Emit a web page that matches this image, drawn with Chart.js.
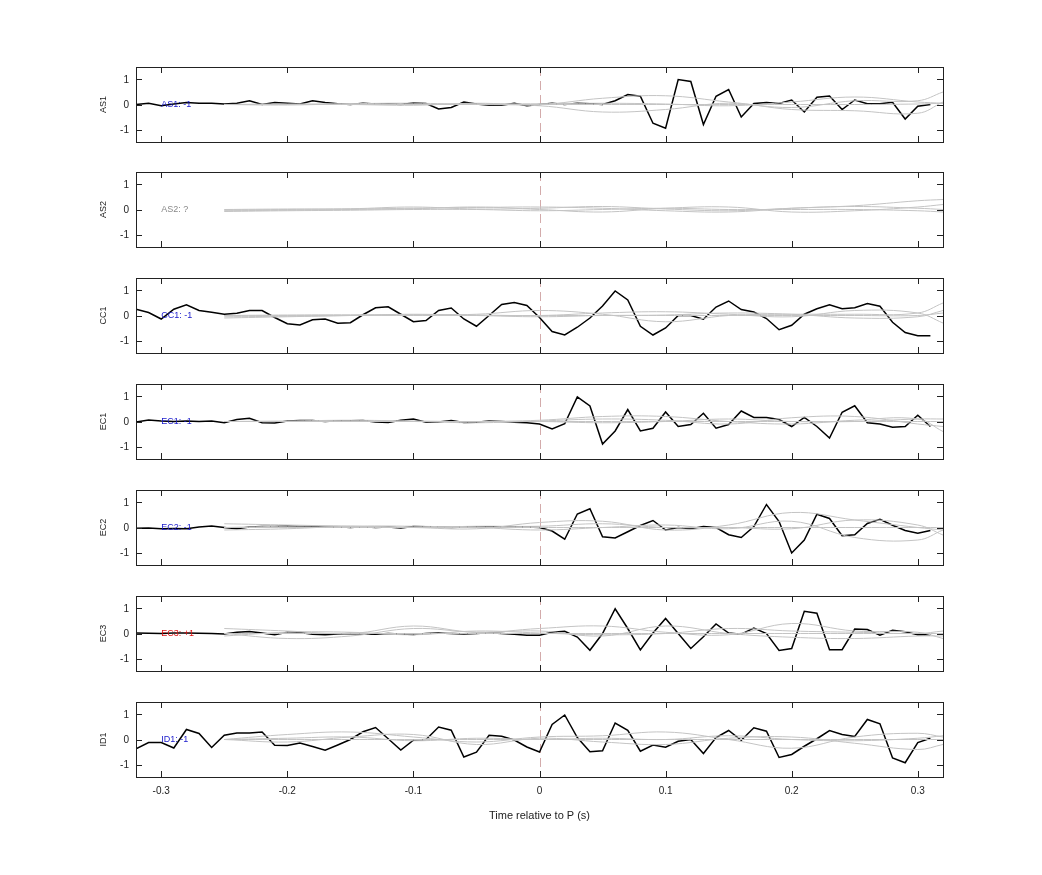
<!DOCTYPE html>
<html><head><meta charset="utf-8">
<script src="https://cdn.jsdelivr.net/npm/chart.js@4"></script>
<style>body{margin:0;background:#fff;width:1042px;height:875px;position:relative;overflow:hidden}
.p{position:absolute;left:0;width:1042px}</style></head><body>
<script>
const times=[-0.32,-0.31,-0.30,-0.29,-0.28,-0.27,-0.26,-0.25,-0.24,-0.23,-0.22,-0.21,-0.20,-0.19,-0.18,-0.17,-0.16,-0.15,-0.14,-0.13,-0.12,-0.11,-0.10,-0.09,-0.08,-0.07,-0.06,-0.05,-0.04,-0.03,-0.02,-0.01,
0,0.01,0.02,0.03,0.04,0.05,0.06,0.07,0.08,0.09,0.10,0.11,0.12,0.13,0.14,0.15,0.16,0.17,0.18,0.19,0.20,0.21,0.22,0.23,0.24,0.25,0.26,0.27,0.28,0.29,0.30,0.31];
const grayT=[-0.25,-0.2,-0.15,-0.1,-0.05,0,0.05,0.1,0.15,0.2,0.25,0.3,0.32];
const panelNames=["AS1","AS2","CC1","EC1","EC2","EC3","ID1"];
const panelLabels=["AS1: -1","AS2: ?","CC1: -1","EC1: -1","EC2: -1","EC3: +1","ID1: -1"];
const labelColors=["#1a1acc","#888888","#1a1acc","#1a1acc","#1a1acc","#dd1111","#1a1acc"];
const xTicks=[-0.3,-0.2,-0.1,0,0.1,0.2,0.3];
const yTicks=[-1,0,1];

const blackAS1=[0,0.05,-0.05,0.02,0.08,0.05,0.05,0.02,0.05,0.15,0,0.08,0.05,0.02,0.15,0.08,0.03,0,0.05,0.02,0.03,0,0.06,0.04,-0.18,-0.12,0.1,0.02,-0.03,-0.03,0.05,-0.05,
0,0.05,0,0.05,0.03,0,0.15,0.4,0.33,-0.75,-0.95,1.0,0.92,-0.8,0.33,0.6,-0.5,0.04,0.08,0.04,0.18,-0.3,0.29,0.34,-0.2,0.18,0.03,0.03,0.09,-0.58,-0.07,0];
const blackAS2=null;
const blackCC1=[0.25,0.12,-0.14,0.25,0.43,0.2,0.13,0.05,0.09,0.2,0.2,-0.08,-0.33,-0.38,-0.17,-0.14,-0.31,-0.29,0.03,0.31,0.35,0.05,-0.25,-0.2,0.2,0.3,-0.14,-0.43,0,0.44,0.52,0.4,
-0.08,-0.64,-0.78,-0.47,-0.1,0.38,0.98,0.62,-0.43,-0.78,-0.5,0,0,-0.15,0.34,0.58,0.24,0.14,-0.12,-0.57,-0.39,0.05,0.27,0.43,0.27,0.31,0.48,0.37,-0.27,-0.68,-0.81,-0.81];
const blackEC1=[-0.02,0.06,0.02,0,0.02,0,0.02,-0.05,0.08,0.13,-0.05,-0.06,0.02,0.04,0.04,0,0.03,0.03,0.04,-0.02,-0.04,0.05,0.1,-0.03,-0.02,0.04,-0.04,-0.03,0.02,0,-0.03,-0.05,
-0.1,-0.3,-0.09,0.98,0.62,-0.9,-0.38,0.48,-0.38,-0.27,0.38,-0.2,-0.12,0.33,-0.27,-0.12,0.42,0.16,0.16,0.08,-0.2,0.16,-0.2,-0.66,0.37,0.63,-0.05,-0.1,-0.23,-0.2,0.25,-0.2];
const blackEC2=[-0.03,-0.02,-0.05,-0.04,-0.05,0.02,0.06,0,-0.05,0.02,0.04,0.04,0.06,0.04,0.04,0.02,0.03,0,0.03,0,0.02,-0.02,0.04,0.03,0.02,0,0.02,0.02,0.03,0.03,0.03,0.02,
0,-0.14,-0.47,0.54,0.75,-0.37,-0.42,-0.17,0.08,0.28,-0.1,0,-0.05,0.04,0,-0.29,-0.4,0.04,0.92,0.24,-1.02,-0.5,0.53,0.36,-0.33,-0.29,0.16,0.33,0.09,-0.12,-0.23,-0.12];
const blackEC3=[0.02,0.01,0,0.02,0.02,0.01,0,-0.02,0.05,0.08,0.02,-0.05,0.05,0.04,-0.03,-0.05,-0.02,0,-0.02,-0.03,0,-0.02,-0.04,0,0.02,0,-0.02,0,0.03,0,-0.03,-0.07,
-0.07,0.05,0.09,-0.14,-0.67,0,0.99,0.2,-0.66,0.02,0.6,0,-0.6,-0.13,0.38,0.02,-0.03,0.22,0,-0.68,-0.6,0.89,0.81,-0.65,-0.65,0.18,0.16,-0.07,0.13,0.07,-0.05,-0.05];
const blackID1=[-0.37,-0.12,-0.12,-0.34,0.4,0.24,-0.32,0.17,0.26,0.26,0.3,-0.23,-0.24,-0.14,-0.28,-0.43,-0.22,0,0.31,0.48,0.03,-0.42,-0.03,0,0.5,0.37,-0.7,-0.51,0.17,0.13,-0.02,-0.3,
-0.5,0.6,0.98,0.08,-0.49,-0.45,0.66,0.37,-0.47,-0.22,-0.31,-0.07,0,-0.56,0.08,0.36,-0.03,0.47,0.33,-0.72,-0.6,-0.27,0.03,0.36,0.2,0.12,0.8,0.63,-0.74,-0.93,-0.12,0.05];

const grayAS1=[[0,0.02,0,-0.03,0.05,0,0.25,0.35,0.1,-0.12,0.15,0.15,0.5],[0,-0.02,0.03,0.05,0,-0.05,-0.3,-0.2,0.05,-0.2,-0.25,-0.35,0.1],[0,0,0.02,0,0.02,0.03,0.05,0.02,-0.05,0.1,0.3,0.1,0.05],[0,0,0,0,0,0,0,0,0,0,0,0.02,0.05]];
const grayAS2=[[-0.02,0,0.02,0.05,0.08,0.1,0.05,-0.05,-0.1,0.05,0.15,0.35,0.4],[-0.05,-0.03,0,0.03,0.1,0,-0.1,0.05,0.1,-0.1,-0.05,0.1,0.2],[0,0.02,0.03,0.1,0.02,0.05,0.12,0.02,-0.05,0.05,0.12,0.05,0],[-0.08,-0.05,-0.03,0,0,-0.05,0,0.05,0,0,0,-0.05,-0.1]];
const grayCC1=[[0,0.02,0.03,0.02,0.05,0.2,0.05,-0.25,0,0.05,0.05,0.1,0.5],[-0.05,-0.03,0,0.03,0.02,0,0.1,0.15,0.05,-0.05,0.2,0.1,-0.3],[-0.1,-0.05,0,0.05,0,-0.05,0,0.02,0.1,0.05,-0.1,-0.05,0.2],[0,0,0,0,0,0,0,0,0,0,0,0,0.1]];
const grayEC1=[[0,0.02,0.05,0.02,0,0.05,0.2,0.2,0,-0.1,0.05,0.1,-0.4],[0,0,0,0,-0.05,0.02,0.1,0.05,-0.1,0.15,0.2,-0.1,-0.2],[0,0,0.02,0,0,0,-0.05,0,0.1,0,0,0.1,0.1],[0,0,0,0,0,0,0,0,0,0,0,0,0]];
const grayEC2=[[0.15,0.1,0.05,0,-0.05,0.2,0.25,-0.1,0.1,0.6,0.3,0,-0.1],[-0.1,-0.05,0.05,0.05,0,-0.1,0,0.1,-0.05,0.25,-0.4,-0.5,-0.1],[0,0.05,0.05,0,0.05,0.05,0.15,0,0,-0.05,0.3,0.1,-0.3],[0,0,0,0,0,0,0,0,0,0,0,0,0]];
const grayEC3=[[0.2,0.1,0,0.3,0.05,0.2,0.3,0.05,-0.05,0.4,0.1,0.05,-0.2],[0,-0.2,-0.1,0.2,0.05,0.1,-0.1,0.3,0,-0.15,-0.2,-0.1,-0.1],[-0.1,0.05,0.05,-0.05,0.1,0.02,-0.05,0,0.2,0.1,0.05,0,0.1],[0,0,0,0,0,0,0,0,0,0,0,0,0]];
const grayID1=[[0,0.2,0.3,0.1,-0.1,0.1,0.15,0.3,0,-0.35,0.1,0.25,0.1],[0,-0.1,0.1,0.2,-0.2,0.05,-0.1,-0.2,0.05,0.1,-0.15,-0.4,-0.2],[0,0.05,0.1,-0.05,0.05,0,0.05,0,0.15,0,-0.05,0.05,0.15],[0,0,0,0,0,0,0,0,0,0,0,0,0]];

const blacks=[blackAS1,blackAS2,blackCC1,blackEC1,blackEC2,blackEC3,blackID1];
const grays=[grayAS1,grayAS2,grayCC1,grayEC1,grayEC2,grayEC3,grayID1];
const tops=[67,172,278,384,490,596,702];
const FONT='"Liberation Sans", Arial, sans-serif';

const framePlugin={id:'frame',
 beforeDatasetsDraw(c){const a=c.chartArea,x=c.scales.x,ctx=c.ctx;
  ctx.save();ctx.strokeStyle='rgba(200,150,150,0.8)';ctx.lineWidth=1;ctx.setLineDash([9,5]);
  const px=Math.round(x.getPixelForValue(0))+0.5;ctx.beginPath();ctx.moveTo(px,a.top);ctx.lineTo(px,a.bottom);ctx.stroke();ctx.restore();},
 afterDatasetsDraw(c){const a=c.chartArea,x=c.scales.x,y=c.scales.y,ctx=c.ctx,i=c.options.plugins.frame.idx;
  ctx.save();ctx.strokeStyle='#222';ctx.lineWidth=1;
  ctx.strokeRect(Math.round(a.left)+0.5,Math.round(a.top)+0.5,Math.round(a.right-a.left),Math.round(a.bottom-a.top));
  ctx.beginPath();
  xTicks.forEach(v=>{const p=Math.round(x.getPixelForValue(v))+0.5;ctx.moveTo(p,a.top);ctx.lineTo(p,a.top+6);ctx.moveTo(p,a.bottom);ctx.lineTo(p,a.bottom-6);});
  yTicks.forEach(v=>{const p=Math.round(y.getPixelForValue(v))+0.5;ctx.moveTo(a.left,p);ctx.lineTo(a.left+6,p);ctx.moveTo(a.right,p);ctx.lineTo(a.right-6,p);});
  ctx.stroke();
  ctx.fillStyle='#222';ctx.font='10px '+FONT;ctx.textBaseline='middle';ctx.textAlign='right';
  yTicks.forEach(v=>ctx.fillText(String(v),a.left-7,y.getPixelForValue(v)+1));
  ctx.save();ctx.translate(a.left-32,(a.top+a.bottom)/2);ctx.rotate(-Math.PI/2);ctx.textAlign='center';ctx.font='9px '+FONT;
  ctx.fillText(panelNames[i],0,0);ctx.restore();
  if(i===6){ctx.textAlign='center';ctx.textBaseline='top';
   xTicks.forEach(v=>ctx.fillText((Math.round(v*10)/10).toString(),x.getPixelForValue(v),a.bottom+9));
   ctx.font='11px '+FONT;ctx.fillText('Time relative to P (s)',(a.left+a.right)/2,a.bottom+33);}
  ctx.textAlign='left';ctx.textBaseline='middle';
  ctx.fillStyle=labelColors[i];ctx.font='9px '+FONT;
  ctx.fillText(panelLabels[i],x.getPixelForValue(-0.3),y.getPixelForValue(0));
  ctx.restore();}};

tops.forEach((top,i)=>{
 const last=i===6;
 const div=document.createElement('div');div.className='p';div.style.top=(top-5)+'px';
 const h=last?135:85;div.style.height=h+'px';
 const cv=document.createElement('canvas');div.appendChild(cv);document.body.appendChild(div);
 const ds=[];
 grays[i].forEach(g=>ds.push({data:grayT.map((t,k)=>({x:t,y:g[k]})),borderColor:'#c4c4c4',borderWidth:1,pointRadius:0,tension:0.4,fill:false}));
 if(blacks[i]) ds.push({data:times.map((t,k)=>({x:t,y:blacks[i][k]})),borderColor:'#000',borderWidth:1.5,pointRadius:0,tension:0,fill:false});
 new Chart(cv,{type:'line',data:{datasets:ds},plugins:[framePlugin],
  options:{responsive:true,maintainAspectRatio:false,animation:false,
   layout:{padding:{top:5,right:99,left:136,bottom:h-80}},
   plugins:{legend:{display:false},tooltip:{enabled:false},frame:{idx:i}},
   scales:{
    x:{type:'linear',display:false,min:-0.32,max:0.32},
    y:{display:false,min:-1.5,max:1.5}
   }}});
});
</script></body></html>
